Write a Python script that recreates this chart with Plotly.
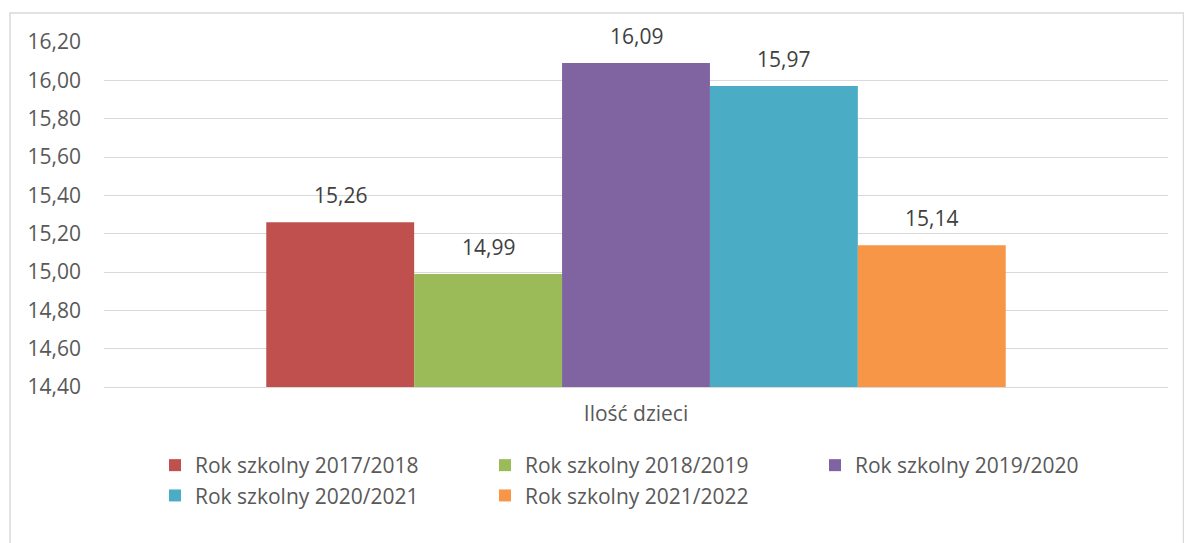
import plotly.graph_objects as go

category = ["Ilość dzieci"]
series_names = [
    "Rok szkolny 2017/2018",
    "Rok szkolny 2018/2019",
    "Rok szkolny 2019/2020",
    "Rok szkolny 2020/2021",
    "Rok szkolny 2021/2022",
]
series_values = [15.26, 14.99, 16.09, 15.97, 15.14]
series_colors = ["#C0504D", "#9BBB59", "#8064A2", "#4BACC6", "#F79646"]
y_ticks = [14.4, 14.6, 14.8, 15.0, 15.2, 15.4, 15.6, 15.8, 16.0, 16.2]

FONT = "Open Sans"
W, H = 1184, 543
ML, MR, MT, MB = 104, 16, 42, 156
PW, PH = W - ML - MR, H - MT - MB
BARGAP = 0.305

fig = go.Figure()
for name, val, col in zip(series_names, series_values, series_colors):
    fig.add_trace(go.Bar(
        x=category, y=[val], name=name,
        marker=dict(color=col, line=dict(width=0)),
        cliponaxis=False,
    ))

# value labels above each bar of the group (bars share the group width equally)
n = len(series_values)
bar_w = (1 - BARGAP) / n
for i, val in enumerate(series_values):
    fig.add_annotation(
        x=(i - (n - 1) / 2) * bar_w, xref="x", y=val, yref="y",
        text=f"{val:.2f}".replace(".", ","), showarrow=False,
        yanchor="bottom", yshift=11,
        font=dict(family=FONT, size=21, color="#404040"),
    )

# outer chart frame (light grey border)
def px_x(p):
    return (p - ML) / PW

def px_y(p):
    return 1 - (p - MT) / PH

fig.add_shape(type="rect", xref="paper", yref="paper",
              x0=px_x(10), x1=px_x(1183.5), y0=px_y(600), y1=px_y(13),
              line=dict(color="#D9D9D9", width=1.5), fillcolor="rgba(0,0,0,0)",
              layer="below")

fig.update_layout(
    width=W, height=H,
    margin=dict(l=ML, r=MR, t=MT, b=MB),
    paper_bgcolor="white", plot_bgcolor="white",
    barmode="group", bargap=BARGAP, bargroupgap=0,
    separators=",.",
    font=dict(family=FONT, size=21, color="#595959"),
    showlegend=True,
    legend=dict(
        orientation="h", x=0.5 + 14 / PW, xanchor="center",
        y=px_y(445), yanchor="top",
        entrywidth=285, entrywidthmode="pixels",
        itemwidth=30,
        font=dict(family=FONT, size=21, color="#595959"),
        traceorder="normal",
    ),
)
fig.update_yaxes(
    range=[14.4, 16.2], tickvals=y_ticks, tickformat=".2f",
    showgrid=True, gridcolor="#D9D9D9", gridwidth=1,
    zeroline=False, showline=False, ticks="",
    ticklabelstandoff=22,
    tickfont=dict(family=FONT, size=21, color="#595959"),
)
fig.update_xaxes(
    showline=True, linecolor="#D9D9D9", linewidth=1,
    ticks="", ticklabelstandoff=8,
    tickfont=dict(family=FONT, size=21, color="#595959"),
)

fig.write_html("out.html")
